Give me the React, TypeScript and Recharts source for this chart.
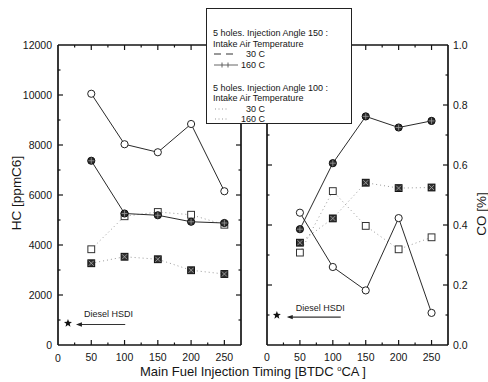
import React from 'react';
import { ComposedChart, Line, Scatter, XAxis, YAxis, ReferenceLine, ReferenceDot } from 'recharts';

// injection timing, BTDC deg CA
const timing = [50, 100, 150, 200, 250];

// HC [ppmC6]
const hcAngle150T30 = [10050, 8030, 7710, 8840, 6150];
const hcAngle150T160 = [7370, 5260, 5190, 4930, 4880];
const hcAngle100T30 = [3830, 5150, 5320, 5210, 4810];
const hcAngle100T160 = [3270, 3530, 3430, 2990, 2840];

// CO [%]
const coAngle150T30 = [0.441, 0.26, 0.182, 0.423, 0.107];
const coAngle150T160 = [0.386, 0.606, 0.762, 0.725, 0.747];
const coAngle100T30 = [0.308, 0.513, 0.397, 0.319, 0.359];
const coAngle100T160 = [0.341, 0.422, 0.541, 0.523, 0.525];

// Diesel HSDI reference point
const dieselTiming = 15;
const dieselHC = 870;
const dieselCO = 0.099;

const X_MAX = 275;
const HC_MAX = 12000;
const CO_MAX = 1;

const xLabelTicks = [0, 50, 100, 150, 200, 250];
const xAllTicks = [0, 25, 50, 75, 100, 125, 150, 175, 200, 225, 250, 275];
const hcLabelTicks = [0, 2000, 4000, 6000, 8000, 10000, 12000];
const hcAllTicks = [0, 1000, 2000, 3000, 4000, 5000, 6000, 7000, 8000, 9000, 10000, 11000, 12000];
const coLabelTicks = [0, 0.2, 0.4, 0.6, 0.8, 1.0];
const coAllTicks = [0, 0.1, 0.2, 0.3, 0.4, 0.5, 0.6, 0.7, 0.8, 0.9, 1.0];

const FONT = '"Liberation Sans", Arial, sans-serif';
const INK = '#151515';

const hcRows = timing.map((t, i) => ({
  t,
  a: hcAngle150T30[i],
  b: hcAngle150T160[i],
  c: hcAngle100T30[i],
  d: hcAngle100T160[i],
}));

const coRows = timing.map((t, i) => ({
  t,
  a: coAngle150T30[i],
  b: coAngle150T160[i],
  c: coAngle100T30[i],
  d: coAngle100T160[i],
}));

const OpenCircle = ({ cx, cy }: any) => (
  <circle cx={cx} cy={cy} r={3.6} fill="#fff" stroke="#222" strokeWidth={1} />
);

const CrossCircle = ({ cx, cy }: any) => (
  <g>
    <circle cx={cx} cy={cy} r={3.6} fill="#2c2c2c" stroke="#111" strokeWidth={1} />
    <path d={`M${cx - 3},${cy}H${cx + 3}M${cx},${cy - 3}V${cy + 3}`} stroke="#999" strokeWidth={0.8} />
  </g>
);

const OpenSquare = ({ cx, cy }: any) => (
  <rect x={cx - 3.4} y={cy - 3.4} width={6.8} height={6.8} fill="#fff" stroke="#333" strokeWidth={1} />
);

const CrossSquare = ({ cx, cy }: any) => (
  <g>
    <rect x={cx - 3.4} y={cy - 3.4} width={6.8} height={6.8} fill="#333" stroke="#111" strokeWidth={1} />
    <path
      d={`M${cx - 2.5},${cy - 2.5}L${cx + 2.5},${cy + 2.5}M${cx - 2.5},${cy + 2.5}L${cx + 2.5},${cy - 2.5}`}
      stroke="#aaa"
      strokeWidth={0.8}
    />
  </g>
);

const Star = ({ cx, cy }: any) => {
  const pts: string[] = [];
  for (let k = 0; k < 10; k++) {
    const r = k % 2 === 0 ? 4.2 : 1.8;
    const a = -Math.PI / 2 + (k * Math.PI) / 5;
    pts.push(`${cx + r * Math.cos(a)},${cy + r * Math.sin(a)}`);
  }
  return <polygon points={pts.join(' ')} fill="#111" />;
};

const ArrowHead = ({ cx, cy }: any) => (
  <polygon points={`${cx},${cy} ${cx + 6},${cy - 2.2} ${cx + 6},${cy + 2.2}`} fill="#222" />
);

const NoteText = ({ cx, cy }: any) => (
  <text x={cx} y={cy} textAnchor="middle" fontSize={9} fontFamily={FONT} fill="#222">
    Diesel HSDI
  </text>
);

const XLabel = ({ cx, cy, value }: any) => (
  <text x={cx} y={cy + 9} dy="0.71em" textAnchor="middle" fontSize={10.5} fontFamily={FONT} fill={INK}>
    {value}
  </text>
);

const YLabel = ({ cx, cy, value }: any) => (
  <text x={cx - 6} y={cy} dy="0.355em" textAnchor="end" fontSize={10.5} fontFamily={FONT} fill={INK}>
    {value}
  </text>
);

// inward tick mark, drawn from the frame edge into the plot
const TickMark = ({ cx, cy, dir, len }: any) => {
  let d = '';
  if (dir === 'up') d = `M${cx},${cy}V${cy - len}`;
  else if (dir === 'down') d = `M${cx},${cy}V${cy + len}`;
  else if (dir === 'right') d = `M${cx},${cy}H${cx + len}`;
  else d = `M${cx},${cy}H${cx - len}`;
  return <path d={d} stroke={INK} strokeWidth={1.2} fill="none" />;
};

const renderFrame = (xId: string, yId: string, yMax: number, yTicks: number[], yMajor: (v: number) => boolean, xLabels: number[]) => {
  const els: React.ReactElement[] = [];
  const edge = { stroke: INK, strokeWidth: 1.7, ifOverflow: 'visible' as const };
  els.push(<ReferenceLine key="fl" xAxisId={xId} yAxisId={yId} x={0} {...edge} />);
  els.push(<ReferenceLine key="fr" xAxisId={xId} yAxisId={yId} x={X_MAX} {...edge} />);
  els.push(<ReferenceLine key="fb" xAxisId={xId} yAxisId={yId} y={0} {...edge} />);
  els.push(<ReferenceLine key="ft" xAxisId={xId} yAxisId={yId} y={yMax} {...edge} />);
  xAllTicks.forEach((v) => {
    if (v === 0 || v === X_MAX) return;
    const len = v % 50 === 0 ? 5 : 2.5;
    els.push(
      <ReferenceDot key={`xb${v}`} xAxisId={xId} yAxisId={yId} x={v} y={0} r={0} ifOverflow="visible"
        shape={(p: any) => <TickMark cx={p.cx} cy={p.cy} dir="up" len={len} />} />,
    );
    els.push(
      <ReferenceDot key={`xt${v}`} xAxisId={xId} yAxisId={yId} x={v} y={yMax} r={0} ifOverflow="visible"
        shape={(p: any) => <TickMark cx={p.cx} cy={p.cy} dir="down" len={len} />} />,
    );
  });
  xLabels.forEach((v) => {
    els.push(
      <ReferenceDot key={`xl${v}`} xAxisId={xId} yAxisId={yId} x={v} y={0} r={0} ifOverflow="visible"
        shape={(p: any) => <XLabel cx={p.cx} cy={p.cy} value={String(v)} />} />,
    );
  });
  yTicks.forEach((v) => {
    if (v === 0 || v === yMax) return;
    const len = yMajor(v) ? 5 : 2.5;
    els.push(
      <ReferenceDot key={`yl${v}`} xAxisId={xId} yAxisId={yId} x={0} y={v} r={0} ifOverflow="visible"
        shape={(p: any) => <TickMark cx={p.cx} cy={p.cy} dir="right" len={len} />} />,
    );
    els.push(
      <ReferenceDot key={`yr${v}`} xAxisId={xId} yAxisId={yId} x={X_MAX} y={v} r={0} ifOverflow="visible"
        shape={(p: any) => <TickMark cx={p.cx} cy={p.cy} dir="left" len={len} />} />,
    );
  });
  return els;
};

const renderSeries = (xId: string, yId: string) => [
  <Line
    key="c"
    xAxisId={xId}
    yAxisId={yId}
    dataKey="c"
    stroke="#9a9a9a"
    strokeWidth={1}
    strokeDasharray="1 3"
    dot={(p: any) => <OpenSquare key={`c${p.index}`} cx={p.cx} cy={p.cy} />}
    activeDot={false}
    isAnimationActive={false}
  />,
  <Line
    key="d"
    xAxisId={xId}
    yAxisId={yId}
    dataKey="d"
    stroke="#9a9a9a"
    strokeWidth={1}
    strokeDasharray="1 3"
    dot={(p: any) => <CrossSquare key={`d${p.index}`} cx={p.cx} cy={p.cy} />}
    activeDot={false}
    isAnimationActive={false}
  />,
  <Line
    key="a"
    xAxisId={xId}
    yAxisId={yId}
    dataKey="a"
    stroke="#2a2a2a"
    strokeWidth={1}
    dot={(p: any) => <OpenCircle key={`a${p.index}`} cx={p.cx} cy={p.cy} />}
    activeDot={false}
    isAnimationActive={false}
  />,
  <Line
    key="b"
    xAxisId={xId}
    yAxisId={yId}
    dataKey="b"
    stroke="#2a2a2a"
    strokeWidth={1}
    dot={(p: any) => <CrossCircle key={`b${p.index}`} cx={p.cx} cy={p.cy} />}
    activeDot={false}
    isAnimationActive={false}
  />,
];

const tickText = { fontSize: 10.5, fill: INK, fontFamily: FONT };

const LegendSample = ({ kind }: { kind: string }) => (
  <svg width={26} height={8} style={{ display: 'inline-block', verticalAlign: 'middle' }}>
    {kind === 'dash' && <path d="M1,4H24" stroke="#333" strokeWidth={1} strokeDasharray="7 5" />}
    {kind === 'plus' && <path d="M1,4H25M9,1.5V6.5M15,1.5V6.5" stroke="#555" strokeWidth={0.9} />}
    {kind === 'dot' && <path d="M2,4H14" stroke="#999" strokeWidth={1} strokeDasharray="1 2.5" />}
  </svg>
);

const LegendLine = ({ kind, label }: { kind: string; label: string }) => (
  <div style={{ display: 'flex', alignItems: 'center', height: 10.5 }}>
    <LegendSample kind={kind} />
    <span style={{ width: 26, textAlign: 'right' }}>{label}</span>
  </div>
);

export default function App() {
  return (
    <div
      style={{
        position: 'absolute',
        left: 0,
        top: 0,
        width: 488,
        height: 382,
        background: '#fff',
        overflow: 'hidden',
        fontFamily: FONT,
        color: INK,
      }}
    >
      {/* HC panel */}
      <div style={{ position: 'absolute', left: 0, top: 0 }}>
        <ComposedChart width={250} height={382} data={hcRows} margin={{ top: 45, right: 9, bottom: 7, left: 58 }}>
          <XAxis
            xAxisId="x"
            dataKey="t"
            type="number"
            domain={[0, X_MAX]}
            ticks={xLabelTicks}
            height={30}
            axisLine={false}
            tickLine={false}
            tick={false}
          />
          <YAxis yAxisId="y" type="number" domain={[0, HC_MAX]} hide />
          {renderFrame('x', 'y', HC_MAX, hcAllTicks, (v) => v % 2000 === 0, xLabelTicks.slice(1))}
          {hcLabelTicks.map((v) => (
            <ReferenceDot
              key={`hl${v}`}
              xAxisId="x"
              yAxisId="y"
              x={0}
              y={v}
              r={0}
              ifOverflow="visible"
              shape={(p: any) => <YLabel cx={p.cx} cy={p.cy} value={String(v)} />}
            />
          ))}
          {renderSeries('x', 'y')}
          <ReferenceLine
            xAxisId="x"
            yAxisId="y"
            segment={[
              { x: 30, y: 820 },
              { x: 101, y: 820 },
            ]}
            stroke="#333"
            strokeWidth={1.2}
          />
          <ReferenceDot xAxisId="x" yAxisId="y" x={27} y={820} r={0} shape={(p: any) => <ArrowHead cx={p.cx} cy={p.cy} />} />
          <ReferenceDot xAxisId="x" yAxisId="y" x={76} y={1130} r={0} shape={(p: any) => <NoteText cx={p.cx} cy={p.cy} />} />
          <Scatter
            xAxisId="x"
            yAxisId="y"
            data={[{ t: dieselTiming, v: dieselHC }]}
            dataKey="v"
            shape={(p: any) => <Star cx={p.cx} cy={p.cy} />}
            isAnimationActive={false}
          />
        </ComposedChart>
      </div>
      {/* origin label of the HC panel's timing axis */}
      <div
        style={{
          position: 'absolute',
          left: 58,
          top: 358,
          transform: 'translate(-50%, -50%)',
          fontSize: 10.5,
          lineHeight: '12px',
        }}
      >
        0
      </div>

      {/* CO panel */}
      <div style={{ position: 'absolute', left: 258, top: 0 }}>
        <ComposedChart width={230} height={382} data={coRows} margin={{ top: 45, right: 10, bottom: 7, left: 9 }}>
          <XAxis
            xAxisId="x"
            dataKey="t"
            type="number"
            domain={[0, X_MAX]}
            ticks={xLabelTicks}
            height={30}
            axisLine={false}
            tickLine={false}
            tick={false}
          />
          <YAxis
            yAxisId="y"
            orientation="right"
            type="number"
            domain={[0, CO_MAX]}
            ticks={coLabelTicks}
            interval={0}
            tickSize={0}
            tickMargin={5}
            width={30}
            axisLine={false}
            tickLine={false}
            tick={tickText}
            tickFormatter={(v: number) => v.toFixed(1)}
          />
          {renderFrame('x', 'y', CO_MAX, coAllTicks, (v) => Math.round(v * 10) % 2 === 0, xLabelTicks)}
          {renderSeries('x', 'y')}
          <ReferenceLine
            xAxisId="x"
            yAxisId="y"
            segment={[
              { x: 33, y: 0.093 },
              { x: 112, y: 0.093 },
            ]}
            stroke="#333"
            strokeWidth={1.2}
          />
          <ReferenceDot xAxisId="x" yAxisId="y" x={30} y={0.093} r={0} shape={(p: any) => <ArrowHead cx={p.cx} cy={p.cy} />} />
          <ReferenceDot xAxisId="x" yAxisId="y" x={81} y={0.113} r={0} shape={(p: any) => <NoteText cx={p.cx} cy={p.cy} />} />
          <Scatter
            xAxisId="x"
            yAxisId="y"
            data={[{ t: dieselTiming, v: dieselCO }]}
            dataKey="v"
            shape={(p: any) => <Star cx={p.cx} cy={p.cy} />}
            isAnimationActive={false}
          />
        </ComposedChart>
      </div>

      {/* axis titles */}
      <div
        style={{
          position: 'absolute',
          left: 16,
          top: 193,
          transform: 'translate(-50%, -50%) rotate(-90deg)',
          whiteSpace: 'nowrap',
          fontSize: 13.5,
        }}
      >
        HC [ppmC6]
      </div>
      <div
        style={{
          position: 'absolute',
          left: 481,
          top: 214,
          transform: 'translate(-50%, -50%) rotate(-90deg)',
          whiteSpace: 'nowrap',
          fontSize: 13.5,
        }}
      >
        CO [%]
      </div>
      <div
        style={{
          position: 'absolute',
          left: 253,
          top: 372,
          transform: 'translate(-50%, -50%)',
          whiteSpace: 'nowrap',
          fontSize: 13,
          lineHeight: '14px',
        }}
      >
        Main Fuel Injection Timing [BTDC <sup style={{ fontSize: 7.5, lineHeight: 0 }}>o</sup>CA ]
      </div>

      {/* legend */}
      <div
        style={{
          position: 'absolute',
          left: 206,
          top: 8,
          width: 146,
          height: 116,
          border: '1px solid #222',
          background: '#fff',
          fontSize: 9,
          lineHeight: '10.5px',
          padding: '19px 0 0 6px',
          boxSizing: 'border-box',
          whiteSpace: 'nowrap',
        }}
      >
        <div>5 holes. Injection Angle 150 :</div>
        <div>Intake Air Temperature</div>
        <LegendLine kind="dash" label="30 C" />
        <LegendLine kind="plus" label="160 C" />
        <div style={{ height: 12.5 }} />
        <div>5 holes. Injection Angle 100 :</div>
        <div>Intake Air Temperature</div>
        <LegendLine kind="dot" label="30 C" />
        <LegendLine kind="dot" label="160 C" />
      </div>
    </div>
  );
}
